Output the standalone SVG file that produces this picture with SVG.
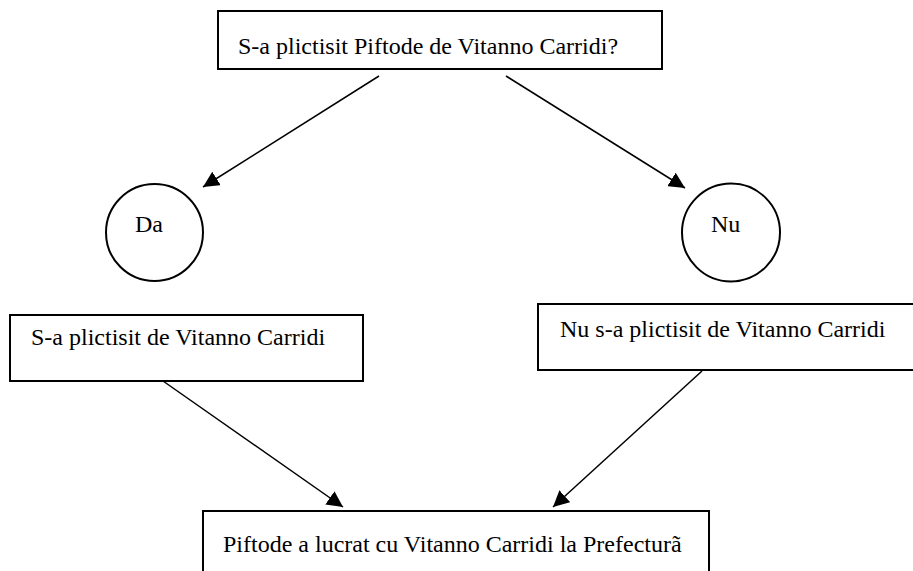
<svg xmlns="http://www.w3.org/2000/svg" width="913" height="571" viewBox="0 0 913 571">
<style>
.box{fill:#fff;stroke:#000;stroke-width:2}
.t{font-family:'Liberation Serif','Times New Roman',Tinos,'DejaVu Serif',serif;font-size:24px;fill:#000}
.c{fill:none;stroke:#000;stroke-width:1.5}
</style>
<defs>
<marker id="ah" markerUnits="userSpaceOnUse" markerWidth="18" markerHeight="16" refX="16" refY="8" orient="auto">
<path d="M0,0 L16,8 L0,16 Z" fill="#000"/>
</marker>
</defs>
<rect width="913" height="571" fill="#fff"/>
<g id="connectors">
<line class="c" x1="379" y1="76" x2="203" y2="187" marker-end="url(#ah)"/>
<line class="c" x1="506" y1="76" x2="685" y2="188" marker-end="url(#ah)"/>
<line class="c" x1="163" y1="381" x2="343" y2="507" marker-end="url(#ah)"/>
<line class="c" x1="702" y1="371" x2="553" y2="507" marker-end="url(#ah)"/>
</g>
<g id="q">
<rect class="box" x="218" y="11" width="444" height="58"/>
<text class="t" font-family="Liberation Serif, serif" x="238" y="54">S-a plictisit Piftode de Vitanno Carridi?</text>
</g>
<g id="da">
<circle cx="154.5" cy="232.5" r="48.5" fill="#fff" stroke="#000" stroke-width="2"/>
<text class="t" font-family="Liberation Serif, serif" x="135" y="232">Da</text>
</g>
<g id="nu">
<circle cx="731" cy="232.5" r="49" fill="#fff" stroke="#000" stroke-width="2"/>
<text class="t" font-family="Liberation Serif, serif" x="711" y="232">Nu</text>
</g>
<g id="daBox">
<rect class="box" x="10" y="315" width="353" height="66"/>
<text class="t" font-family="Liberation Serif, serif" x="31" y="345">S-a plictisit de Vitanno Carridi</text>
</g>
<g id="nuBox">
<rect class="box" x="538" y="304" width="380" height="66"/>
<text class="t" font-family="Liberation Serif, serif" x="560" y="337">Nu s-a plictisit de Vitanno Carridi</text>
</g>
<g id="result">
<rect class="box" x="203" y="511" width="506" height="70"/>
<text class="t" font-family="Liberation Serif, serif" x="223" y="552">Piftode a lucrat cu Vitanno Carridi la Prefecturã</text>
</g>
</svg>
